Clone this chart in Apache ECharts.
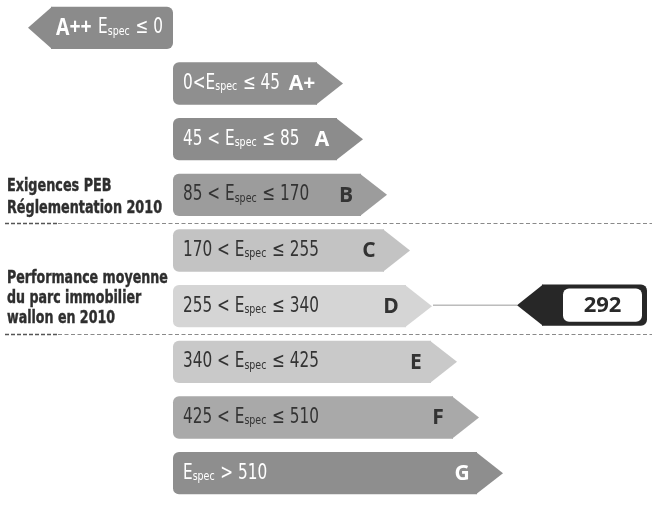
<!DOCTYPE html>
<html>
<head>
<meta charset="utf-8">
<script src="https://cdn.jsdelivr.net/npm/echarts@6/dist/echarts.min.js"></script>
<style>
html,body{margin:0;padding:0;background:#ffffff;}
#chart{width:652px;height:512px;}
</style>
</head>
<body>
<div id="chart"></div>
<script>
// ---- data ----
const classes = ['A++', 'A+', 'A', 'B', 'C', 'D', 'E', 'F', 'G'];
const lowerBounds = [null, 0, 45, 85, 170, 255, 340, 425, 510];
const upperBounds = [0, 45, 85, 170, 255, 340, 425, 510, null];
// arrow tip position on the (pixel-like) horizontal scale; A++ points left
const arrowTip = [28, 343, 363, 387, 410, 432, 457, 479, 503];
const arrowBase = 173;
const separatorsAfter = ['B', 'D'];
const markerClass = 'D';
const markerValue = 292;
const markerTip = 517;
const noteB = ['Exigences PEB', 'Réglementation 2010'];
const noteD = ['Performance moyenne', 'du parc immobilier', 'wallon en 2010'];

// ---- styles ----
const fills = ['#8b8b8b', '#8f8f8f', '#8c8c8c', '#9c9c9c', '#c3c3c3', '#d5d5d5', '#c9c9c9', '#a9a9a9', '#8e8e8e'];
const textCols = ['#ffffff', '#ffffff', '#ffffff', '#333333', '#333333', '#333333', '#333333', '#333333', '#ffffff'];
const NARROW = '"DejaVu Sans Condensed","DejaVu Sans",sans-serif';
const BOLD = '"Open Sans","DejaVu Sans",sans-serif';
const RANGE_SCALE = 0.81;

function rangeText(i) {
  const lo = lowerBounds[i], hi = upperBounds[i];
  if (lo === null) return '{e|E}{s|spec}{r| ≤ ' + hi + '}';
  if (hi === null) return '{e|E}{s|spec}{r| > ' + lo + '}';
  if (lo === 0) return '{r|' + lo + '<}{e|E}{s|spec}{r| ≤ ' + hi + '}';
  return '{r|' + lo + ' < }{e|E}{s|spec}{r| ≤ ' + hi + '}';
}
function richFor(col) {
  return {
    r: {fontSize: 21, fontFamily: NARROW, fill: col, lineHeight: 24, verticalAlign: 'middle'},
    e: {fontSize: 21, fontFamily: NARROW, fill: col, lineHeight: 24, verticalAlign: 'middle'},
    s: {fontSize: 13, fontFamily: NARROW, fill: col, lineHeight: 24, verticalAlign: 'bottom', padding: [0, 1, 2, 0]},
    b: {fontSize: 24, fontFamily: BOLD, fontWeight: 'bold', fill: col, lineHeight: 24, verticalAlign: 'middle', padding: [0, 8, 0, 0]}
  };
}

const chart = echarts.init(document.getElementById('chart'), null, {renderer: 'canvas'});

function renderArrow(params, api) {
  const i = api.value(0);
  const tip = api.coord([api.value(1), i]);
  const base = api.coord([arrowBase, i]);
  const band = api.size([0, 1])[1];
  const h = band * 0.76;
  const yc = tip[1], top = yc - h / 2, bot = yc + h / 2;
  const fill = fills[i], col = textCols[i];
  const children = [];
  if (i === 0) {
    const sl = tip[0] + 24;
    children.push({type: 'rect', shape: {x: sl - 1, y: top, width: base[0] - sl + 1, height: h, r: [0, 6, 6, 0]}, style: {fill: fill}});
    children.push({type: 'polygon', shape: {points: [[sl, top], [tip[0], yc], [sl, bot]]}, style: {fill: fill}});
    children.push({type: 'text', x: sl + 4, y: yc, scaleX: RANGE_SCALE, style: {text: '{b|' + classes[i] + '}' + rangeText(i), rich: richFor(col), verticalAlign: 'middle', align: 'left'}});
  } else {
    const sl = tip[0] - 27;
    children.push({type: 'rect', shape: {x: base[0], y: top, width: sl - base[0] + 1, height: h, r: [6, 0, 0, 6]}, style: {fill: fill}});
    children.push({type: 'polygon', shape: {points: [[sl, top], [tip[0], yc], [sl, bot]]}, style: {fill: fill}});
    children.push({type: 'text', x: base[0] + 10, y: yc, scaleX: RANGE_SCALE, style: {text: rangeText(i), rich: richFor(col), verticalAlign: 'middle', align: 'left'}});
    children.push({type: 'text', x: tip[0] - 41, y: yc + 1, style: {text: classes[i], fontSize: 21, fontFamily: BOLD, fontWeight: 'bold', fill: col, align: 'center', verticalAlign: 'middle'}});
  }
  return {type: 'group', children: children};
}

function renderSeparator(params, api) {
  const i = api.value(0);
  const band = api.size([0, 1])[1];
  const p0 = api.coord([5, i]), p1 = api.coord([652, i]);
  const y = Math.round(p0[1] + band / 2) + 0.5;
  return {type: 'group', children: [
    {type: 'line', shape: {x1: p0[0], y1: y, x2: 58, y2: y}, style: {stroke: '#555', lineWidth: 1.4, lineDash: [4, 2]}},
    {type: 'line', shape: {x1: 58, y1: y, x2: p1[0], y2: y}, style: {stroke: '#8a8a8a', lineWidth: 1, lineDash: [4, 2.5]}}
  ]};
}

function renderMarker(params, api) {
  const i = api.value(0);
  const val = api.value(1);
  const t = api.coord([markerTip, i]);
  const from = api.coord([arrowTip[i], i]);
  const band = api.size([0, 1])[1];
  const h = band * 0.74;
  const yc = t[1] - 1, top = yc - h / 2, bot = yc + h / 2;
  const sl = t[0] + 26, right = api.coord([647, i])[0];
  return {type: 'group', children: [
    {type: 'line', shape: {x1: from[0] + 1, y1: yc, x2: t[0], y2: yc}, style: {stroke: '#9a9a9a', lineWidth: 1}},
    {type: 'rect', shape: {x: sl - 1, y: top, width: right - sl + 1, height: h, r: [0, 6, 6, 0]}, style: {fill: '#272727'}},
    {type: 'polygon', shape: {points: [[sl, top], [t[0], yc], [sl, bot]]}, style: {fill: '#272727'}},
    {type: 'rect', shape: {x: sl + 20, y: top + 4, width: right - sl - 25, height: h - 8, r: 6}, style: {fill: '#ffffff'}},
    {type: 'text', x: sl + 20 + (right - sl - 25) / 2, y: yc + 1, style: {text: String(val), fontSize: 22, fontFamily: BOLD, fontWeight: 'bold', fill: '#2a2a2a', align: 'center', verticalAlign: 'middle'}}
  ]};
}

const noteStyle = {fontSize: 18, fontFamily: NARROW, fontWeight: 'bold', fill: '#2e2e2e', stroke: '#2e2e2e', lineWidth: 0.4};

chart.setOption({
  backgroundColor: '#ffffff',
  animation: false,
  grid: {left: 0, right: 0, top: -1, bottom: 11},
  xAxis: {type: 'value', min: 0, max: 652, show: false},
  yAxis: {type: 'category', data: classes, inverse: true, show: false},
  series: [
    {type: 'custom', renderItem: renderSeparator, data: separatorsAfter.map(c => [classes.indexOf(c)]), silent: true},
    {type: 'custom', renderItem: renderArrow, data: classes.map((c, i) => [i, arrowTip[i]]), silent: true},
    {type: 'custom', renderItem: renderMarker, data: [[classes.indexOf(markerClass), markerValue]], silent: true}
  ],
  graphic: [
    {type: 'text', x: 7, y: 175, scaleX: 0.79, z: 10, style: Object.assign({text: noteB.join('\n'), lineHeight: 22}, noteStyle)},
    {type: 'text', x: 7, y: 268, scaleX: 0.78, z: 10, style: Object.assign({text: noteD.join('\n'), lineHeight: 20}, noteStyle)}
  ]
});
</script>
</body>
</html>
